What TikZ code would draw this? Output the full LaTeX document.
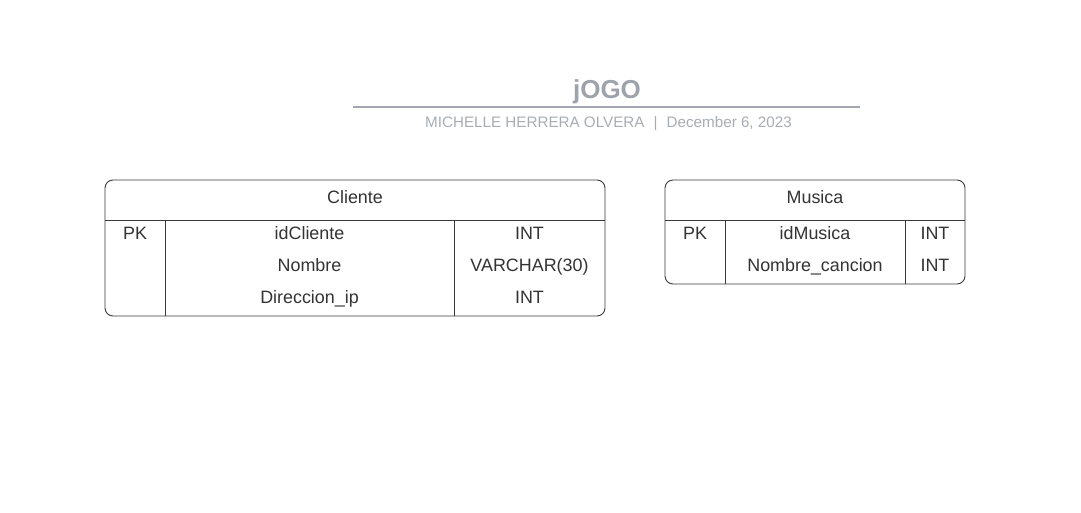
\documentclass[tikz,border=0pt]{standalone}
\usepackage{fontspec}
\setmainfont{Liberation Sans}
\definecolor{titlegray}{HTML}{9EA3AB}
\definecolor{subgray}{HTML}{A8ACB3}
\definecolor{linegray}{HTML}{A3A7AD}
\definecolor{tabline}{HTML}{3A3A3A}
\definecolor{tabtext}{HTML}{333333}
\tikzset{
  tbl/.style={draw=tabline, line width=0.9pt, rounded corners=8pt},
  sep/.style={draw=tabline, line width=0.9pt},
  cell/.style={inner sep=0pt, text=tabtext, font=\fontsize{17.9}{20}\selectfont, anchor=base},
}
\begin{document}
\begin{tikzpicture}[x=1pt, y=-1pt]
\useasboundingbox (0,0) rectangle (1081,512);
% title
\node[inner sep=0pt, anchor=base, text=titlegray, font=\fontsize{26}{30}\selectfont\bfseries] (title) at (607,98.5) {jOGO};
\coordinate (rl) at (353,107);
\coordinate (rr) at (860,107);
\draw[draw=linegray, line width=1.8pt] (rl) -- (rr);
\node[inner sep=0pt, anchor=base, text=subgray, font=\fontsize{15.2}{18}\selectfont] (sub) at (608.5,127.5) {MICHELLE HERRERA OLVERA\hspace{0.6em}|\hspace{0.6em}December 6, 2023};

% Cliente table
\draw[tbl] (105,180) rectangle (605,316);
\draw[sep] (105,220) -- (605,220);
\draw[sep] (165,220) -- (165,316);
\draw[sep] (454,220) -- (454,316);
\node[cell] (cname) at (355,203.4) {Cliente};
\node[cell] (cpk) at (135,239.4) {PK};
\node[cell] (c1) at (309.5,239.4) {idCliente};
\node[cell] (c2) at (309.5,271.4) {Nombre};
\node[cell] (c3) at (309.5,303.4) {Direccion\_ip};
\node[cell] (t1) at (529.5,239.4) {INT};
\node[cell] (t2) at (529.5,271.4) {VARCHAR(30)};
\node[cell] (t3) at (529.5,303.4) {INT};

% Musica table
\draw[tbl] (665,180) rectangle (965,284);
\draw[sep] (665,220) -- (965,220);
\draw[sep] (725,220) -- (725,284);
\draw[sep] (905,220) -- (905,284);
\node[cell] (mname) at (815,203.4) {Musica};
\node[cell] (mpk) at (695,239.4) {PK};
\node[cell] (m1) at (815,239.4) {idMusica};
\node[cell] (m2) at (815,271.4) {Nombre\_cancion};
\node[cell] (u1) at (935,239.4) {INT};
\node[cell] (u2) at (935,271.4) {INT};
\end{tikzpicture}
\end{document}
